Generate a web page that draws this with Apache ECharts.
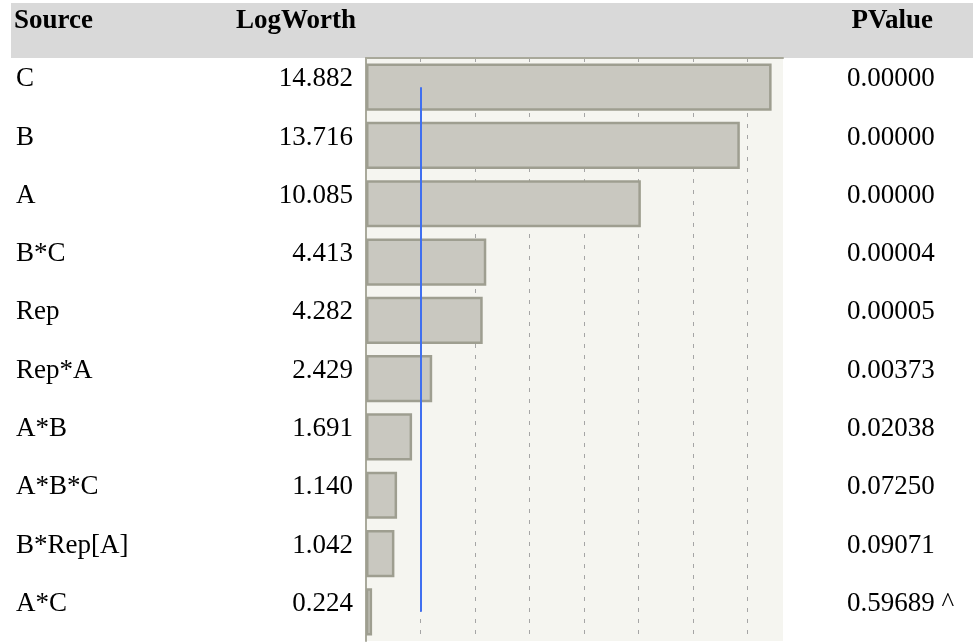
<!DOCTYPE html>
<html>
<head>
<meta charset="utf-8">
<script src="https://cdn.jsdelivr.net/npm/echarts@6/dist/echarts.min.js"></script>
<style>
  html, body { margin: 0; padding: 0; background: #ffffff; }
  #chart { width: 973px; height: 643px; }
</style>
</head>
<body>
<div id="chart"></div>
<script>
const sources = ['C', 'B', 'A', 'B*C', 'Rep', 'Rep*A', 'A*B', 'A*B*C', 'B*Rep[A]', 'A*C'];
const logWorth = [14.882, 13.716, 10.085, 4.413, 4.282, 2.429, 1.691, 1.140, 1.042, 0.224];
const pValues = ['0.00000', '0.00000', '0.00000', '0.00004', '0.00005', '0.00373', '0.02038', '0.07250', '0.09071', '0.59689 ^'];
const headers = ['Source', 'LogWorth', 'PValue'];
const refLogWorth = 2;

const FONT = "'Liberation Serif', 'DejaVu Serif', serif";
const chart = echarts.init(document.getElementById('chart'));

const labelBase = {
  fontFamily: FONT,
  fontSize: 27,
  color: '#000000',
  verticalAlign: 'bottom',
  lineHeight: 16
};

const gridColors = ['#a5a5a5', '#a5a5a5', '#a5a5a5', '#a5a5a5', '#a5a5a5', '#a5a5a5', '#a5a5a5', '#a5a5a5', 'rgba(0,0,0,0)'];

chart.setOption({
  backgroundColor: '#ffffff',
  animation: false,
  grid: {
    left: 366, right: 190, top: 58, bottom: 2,
    show: true, backgroundColor: '#f5f5f0', borderWidth: 0
  },
  xAxis: {
    type: 'value', min: 0, max: 15.3, interval: 2, position: 'top',
    axisLabel: { show: false },
    axisTick: { show: false },
    axisLine: { show: true, lineStyle: { color: '#a9a99b', width: 2 } },
    splitLine: { show: true, lineStyle: { color: gridColors, type: [4, 7], width: 1 } }
  },
  yAxis: [
    {
      type: 'category', data: sources, inverse: true, position: 'left',
      axisLine: { show: true, lineStyle: { color: '#a9a99b', width: 2 } },
      axisTick: { show: false },
      axisLabel: Object.assign({}, labelBase, { align: 'left', margin: 350 })
    },
    {
      type: 'category', data: logWorth.map(v => v.toFixed(3)), inverse: true, position: 'left',
      axisLine: { show: false }, axisTick: { show: false },
      axisLabel: Object.assign({}, labelBase, { align: 'right', margin: 13 })
    },
    {
      type: 'category', data: pValues, inverse: true, position: 'right',
      axisLine: { show: false }, axisTick: { show: false },
      axisLabel: Object.assign({}, labelBase, { align: 'left', margin: 64 })
    }
  ],
  series: [{
    type: 'bar',
    data: logWorth,
    yAxisIndex: 0,
    barCategoryGap: '19%',
    itemStyle: { color: '#c9c8c0', borderColor: '#9e9e90', borderWidth: 2.5 },
    markLine: {
      silent: true,
      symbol: 'none',
      label: { show: false },
      lineStyle: { color: '#3f6ff0', width: 2, type: 'solid' },
      data: [[{ coord: [refLogWorth, sources[0]] }, { coord: [refLogWorth, sources[sources.length - 1]] }]]
    }
  }],
  graphic: [
    { type: 'rect', left: 11, top: 3, z: -1, shape: { width: 962, height: 55 }, style: { fill: '#d9d9d9' } },
    { type: 'text', x: 14, y: 21, style: { text: headers[0], font: "bold 27px " + FONT, fill: '#000', textAlign: 'left', textVerticalAlign: 'middle' } },
    { type: 'text', x: 356, y: 21, style: { text: headers[1], font: "bold 27px " + FONT, fill: '#000', textAlign: 'right', textVerticalAlign: 'middle' } },
    { type: 'text', x: 933, y: 21, style: { text: headers[2], font: "bold 27px " + FONT, fill: '#000', textAlign: 'right', textVerticalAlign: 'middle' } }
  ]
});
</script>
</body>
</html>
